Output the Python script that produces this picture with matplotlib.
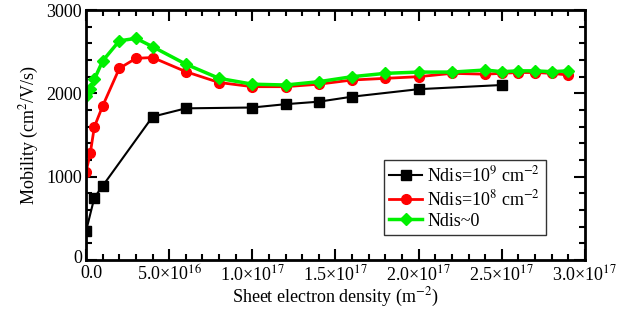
import matplotlib
matplotlib.use("Agg")
from matplotlib import pyplot as plt
from matplotlib.ticker import MultipleLocator
from matplotlib.transforms import ScaledTranslation

plt.rcParams["font.family"] = ["Liberation Serif", "DejaVu Serif"]
plt.rcParams["mathtext.fontset"] = "stix"

# data
x_black = [0.0, 0.5e16, 1.0e16, 4.0e16, 6.0e16, 1.0e17, 1.2e17, 1.4e17, 1.6e17, 2.0e17, 2.5e17]
y_black = [350, 750, 890, 1720, 1820, 1830, 1870, 1900, 1960, 2050, 2100]

x_red = [0.0, 0.25e16, 0.5e16, 1.0e16, 2.0e16, 3.0e16, 4.0e16, 6.0e16, 8.0e16, 1.0e17, 1.2e17,
         1.4e17, 1.6e17, 1.8e17, 2.0e17, 2.2e17, 2.4e17, 2.5e17, 2.6e17, 2.7e17, 2.8e17, 2.9e17]
y_red = [1060, 1280, 1600, 1850, 2300, 2420, 2430, 2260, 2130, 2080, 2080,
         2110, 2160, 2180, 2200, 2240, 2230, 2240, 2250, 2250, 2240, 2220]

x_green = x_red
y_green = [1970, 2050, 2170, 2390, 2630, 2660, 2560, 2350, 2180, 2110, 2100,
           2140, 2200, 2240, 2255, 2255, 2280, 2260, 2270, 2270, 2260, 2270]

labels = ["Ndis=10$^{9}$ cm$^{-2}$", "Ndis=10$^{8}$ cm$^{-2}$", "Ndis~0"]

x_ticks = [0.0, 0.5e17, 1.0e17, 1.5e17, 2.0e17, 2.5e17, 3.0e17]
x_ticklabels = ["0.0", "5.0\u00d710$^{16}$", "1.0\u00d710$^{17}$", "1.5\u00d710$^{17}$",
                "2.0\u00d710$^{17}$", "2.5\u00d710$^{17}$", "3.0\u00d710$^{17}$"]
y_ticks = [0, 1000, 2000, 3000]

fig = plt.figure(figsize=(6.33, 3.23), dpi=100)
ax = fig.add_axes([0.136, 0.195, 0.788, 0.774])

ax.plot(x_black, y_black, "-s", color="black", lw=1.5, ms=7, label=labels[0])
ax.plot(x_red, y_red, "-o", color="red", lw=2, ms=7, label=labels[1])
ax.plot(x_green, y_green, "-D", color="#00f000", lw=2.5, ms=6, label=labels[2])

ax.set_xlim(0, 3.0e17)
ax.set_ylim(0, 3000)
ax.set_xticks(x_ticks)
ax.set_xticklabels(x_ticklabels)
ax.set_yticks(y_ticks)
ax.xaxis.set_minor_locator(MultipleLocator(1e16))
ax.yaxis.set_minor_locator(MultipleLocator(200))
ax.tick_params(which="both", direction="in", top=True, right=True, labelsize=13, width=1.5)
ax.tick_params(axis="y", pad=3)
ax.tick_params(which="major", length=8)
ax.tick_params(which="minor", length=4)
for s in ax.spines.values():
    s.set_linewidth(2)

# nudge the two labels at the origin apart, as in the reference
xl0 = ax.get_xticklabels()[0]
xl0.set_transform(xl0.get_transform() + ScaledTranslation(5 / 100, 0, fig.dpi_scale_trans))
yl0 = ax.get_yticklabels()[0]
yl0.set_transform(yl0.get_transform() + ScaledTranslation(0, 4 / 100, fig.dpi_scale_trans))

ax.set_xlabel("Sheet electron density (m$^{-2}$)", fontsize=13, labelpad=1)
ax.set_ylabel("Mobility (cm$^2$/V/s)", fontsize=13, labelpad=4)

leg = ax.legend(loc="upper left", bbox_to_anchor=(0.597, 0.40), fontsize=13, frameon=True,
                fancybox=False, edgecolor="black", handlelength=1.8, handletextpad=0.3,
                labelspacing=0.2, borderpad=0.3, borderaxespad=0)
leg.get_frame().set_linewidth(1)

plt.savefig("out.png", dpi=100)
